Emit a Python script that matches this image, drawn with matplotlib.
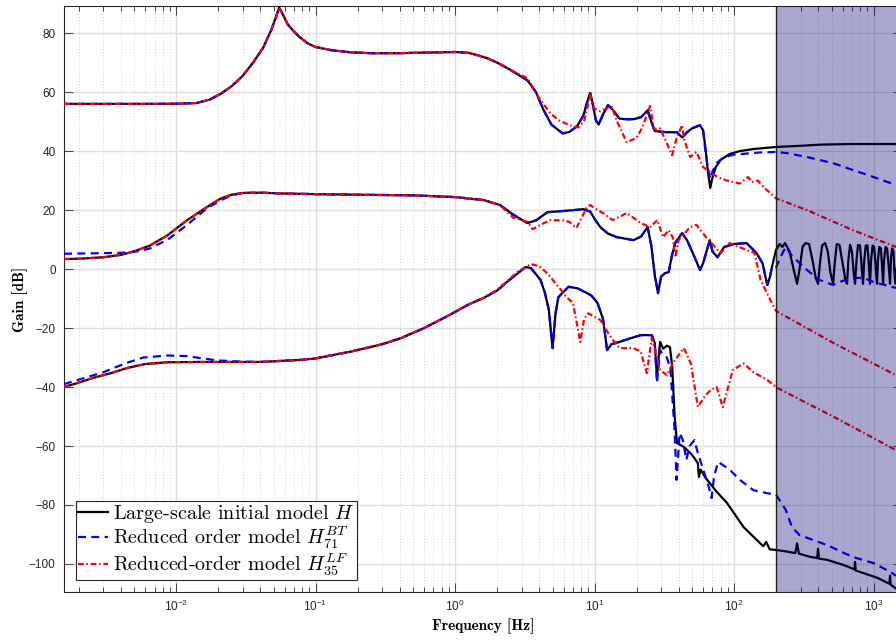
import numpy as np
from matplotlib import pyplot as plt
from matplotlib.font_manager import FontProperties

# gain curves as (frequency [Hz], gain [dB]) pairs

# --- first channel (top curves)
top_common = [(0.00157, 56), (0.003, 56), (0.006, 56), (0.01, 56.05), (0.014, 56.3),
              (0.0175, 57.5), (0.021, 59.5), (0.025, 62), (0.03, 65.5), (0.0356, 70),
              (0.042, 75), (0.048, 81), (0.052, 85.5), (0.0547, 88.7), (0.058, 86.5),
              (0.063, 83), (0.07, 80.5), (0.077, 78.6), (0.088, 76.5), (0.1, 75.3),
              (0.13, 74.2), (0.177, 73.5), (0.25, 73.2), (0.4, 73.2), (0.6, 73.4),
              (1.0, 73.6), (1.25, 73.3), (1.45, 72.5), (1.7, 71.5), (2.04, 69.8), (2.5, 67.5)]
top_mid = [(3.3, 64), (3.8, 60), (4.3, 54), (4.9, 49), (5.9, 46), (6.6, 46.5), (7.5, 48.5),
           (8.3, 52), (8.9, 57), (9.3, 59.7), (9.7, 56), (10.2, 50.5), (10.7, 49),
           (11.5, 52.5), (12.5, 55.6), (13.5, 54), (15.1, 51), (17, 50.8), (19, 50.8),
           (21.5, 51.5), (24, 53.8), (25.5, 50), (27, 46.8), (33, 46.4), (39, 46.4),
           (42.5, 44.6), (46, 46.4), (50, 47.7), (57, 48.8)]
top_H_tail = [(60, 47), (62, 42), (65, 33), (67.5, 27.5), (70, 31), (74, 34.6), (80, 37),
              (93, 39), (110, 40), (138, 40.7), (200, 41.4), (300, 41.8), (420, 42.2),
              (700, 42.4), (1450, 42.4)]
top_BT_tail = [(60, 47), (62, 41), (65, 34), (67.5, 30.5), (70, 33), (75, 36), (85, 38),
               (100, 38.8), (150, 39.5), (200, 39.7), (240, 39.3), (333, 38), (513, 35.9),
               (710, 33.6), (1000, 31.2), (1450, 28.5)]
top_LF_tail = [(3.3, 64.7), (4.0, 58), (4.8, 52.9), (5.5, 50.5), (6.6, 48.8), (7.6, 48),
               (8.4, 50), (9.0, 56), (9.3, 59), (9.9, 54.5), (11, 53.5), (12.3, 54.5),
               (13.3, 55), (14.5, 50), (17, 43), (20, 44.5), (22, 48), (25, 55.3),
               (26.5, 48), (28, 47), (29.5, 47.7), (32, 44), (36, 38.6), (38.5, 44),
               (42.4, 48.8), (44, 43.7), (48.4, 38), (53.7, 39.7), (60, 34.6), (76, 31.2),
               (89, 30), (110, 29), (126, 31.2), (134, 29.5), (148, 30), (165, 27.5),
               (200, 24), (333, 20), (710, 13.2), (1450, 7.5)]

# --- second channel (middle curves)
mid_low = [(0.00157, 3.4), (0.002, 3.5), (0.003, 4), (0.004, 4.8), (0.005, 6),
           (0.0065, 8), (0.0087, 11.5), (0.012, 16.6), (0.0166, 21), (0.021, 24),
           (0.025, 25.2), (0.03, 25.8)]
mid_BT_low = [(0.00157, 5.2), (0.003, 5.4), (0.004, 5.5), (0.0053, 6), (0.0065, 7),
              (0.0087, 10), (0.012, 15), (0.0166, 20.6), (0.021, 23.4), (0.025, 25),
              (0.03, 25.8)]
mid_plateau = [(0.04, 25.9), (0.06, 25.6), (0.1, 25.4), (0.2, 25.2), (0.5, 25),
               (1.0, 24.4), (1.6, 23.4), (2.1, 21.7)]
mid_mid = [(2.6, 18.5), (3.3, 15.6), (3.8, 16.5), (4.6, 19.3), (6, 19.7), (8.3, 20.3),
           (9.3, 19.5), (10, 17), (11, 14.2), (12.5, 12), (14.5, 10.8), (19, 9.8),
           (21.5, 11), (24, 14.2), (25.5, 8), (27, -2), (28.5, -8.2), (30, -2.5),
           (32, -1.4), (34, -1), (36, 5), (38, 9), (42.5, 12.2), (46, 9.8), (50, 6),
           (57, -0.3), (60, 2), (67, 9.8), (70, 6), (76, 4), (85, 7.5), (100, 8.5),
           (123, 8.8), (145, 5.4), (160, 2), (173, -5.4), (180, -3), (187, 0.7)]
mid_H_tail = [(200, 6.5), (212, 8.5), (222, 7.5), (232, 8.8), (250, 6), (270, -1),
              (283, -5), (295, 0), (310, 7.5), (325, 8.8), (345, 8.5), (365, 3),
              (385, -3), (400, -5), (413, 2), (428, 8), (450, 8.8), (470, 6), (490, -1),
              (513, -5), (527, 2), (545, 8.5), (570, 8.2), (600, 2), (630, -4), (646, -5),
              (660, 3), (679, 8.2), (700, 6), (720, -1), (737, -5), (755, 3), (774, 8.2),
              (800, 8), (825, 0), (841, -5), (858, 3), (880, 8), (905, 8), (930, 0),
              (944, -5), (960, 3), (985, 8), (1010, 7.5), (1040, 0), (1059, -5), (1075, 3),
              (1100, 7.5), (1130, 7), (1155, 0), (1171, -5), (1190, 3), (1220, 7.5),
              (1250, 7), (1290, 0), (1313, -5), (1335, 4), (1360, 7), (1390, 6),
              (1420, -3), (1440, -5), (1460, 0)]
mid_BT_tail = [(200, 0.5), (215, 4), (235, 7.5), (260, 4.5), (333, -0.3), (410, -3.7),
               (513, -5.4), (600, -4), (710, -3), (850, -3), (1000, -4.4), (1450, -6.4)]
mid_LF_tail = [(2.6, 17.5), (3.3, 16), (3.6, 13.5), (4.1, 15), (4.8, 16.6), (6.0, 16.5),
               (6.6, 16), (7.4, 13.9), (8.3, 18.5), (8.8, 21), (9.3, 21.7), (10, 20.6),
               (11.5, 19), (13.5, 16.6), (15.5, 18), (17, 19), (21.4, 15.6), (25, 14.2),
               (28.2, 16.6), (31, 10.8), (34, 13.2), (36.3, 10.8), (38, 4), (40, 9.8),
               (48.4, 14.2), (53.7, 15), (63, 10.8), (80, 5.4), (93, 8.8), (124, 6.4),
               (140, 5.5), (155, -3.7), (182, -10.5), (200, -14.2), (513, -25), (1450, -36)]

# --- third channel (bottom curves)
bot_low = [(0.00157, -40), (0.002, -38.5), (0.0025, -37), (0.0034, -35.3), (0.0045, -33.5),
           (0.006, -32.2), (0.0087, -31.6), (0.015, -31.5), (0.04, -31.5)]
bot_BT_low = [(0.00157, -39), (0.002, -37.5), (0.003, -35), (0.0043, -32), (0.0058, -30),
              (0.0087, -29.3), (0.012, -29.5), (0.015, -30.2), (0.02, -31), (0.03, -31.4),
              (0.04, -31.5)]
bot_rise = [(0.078, -30.8), (0.1, -30.3), (0.178, -28), (0.3, -25.5), (0.41, -23.4),
            (0.6, -20), (0.91, -15.6), (1.25, -12), (1.6, -9.8)]
bot_mid = [(2.0, -7.3), (2.35, -4.4), (2.8, -1.5), (3.2, 0.7), (3.5, 0.3), (4.1, -3.7),
           (4.4, -8), (4.7, -13.9), (5.0, -26.8), (5.25, -15), (5.5, -9.5), (6.5, -6),
           (7.5, -6.5), (8.7, -8), (9.5, -9), (10.5, -11.5), (11.5, -17), (12.3, -27.5),
           (13.2, -25.5), (15.1, -24.7), (18, -23.5), (21.4, -22.4), (25.7, -22.4), (27, -25)]
bot_H_tail = [(28, -36.6), (29.5, -24.7), (31, -27), (33, -26), (34.7, -26.5), (36, -33),
              (37.5, -50), (39, -59), (43.6, -60.3), (50, -63), (55, -65.8), (56, -70.5),
              (57.5, -68), (63, -71), (75, -75.5), (89, -79.3), (117, -87.5), (162, -94),
              (170, -92.5), (180, -95), (204, -95.3), (240, -95.8), (275, -96.3),
              (283, -93), (292, -96.5), (353, -97.6), (395, -98), (400, -94.8),
              (406, -98.2), (465, -98.6), (605, -100.3), (730, -101.8), (737, -99.3),
              (745, -102.2), (800, -102.7), (1066, -104.7), (1300, -106.7), (1313, -104),
              (1326, -107), (1450, -108.3)]
bot_BT_tail = [(28, -38.6), (29.5, -27.5), (31, -29), (33, -30), (35, -34), (37.5, -55),
               (38.7, -71.5), (40.7, -55.6), (43, -58), (45.5, -64.7), (48, -60),
               (52, -58), (55, -62.4), (62, -70), (66, -74), (69, -77.6), (72, -70),
               (77, -65.4), (93, -68), (110, -71.5), (138, -75), (173, -76), (200, -76.5),
               (235, -81.7), (260, -87.5), (295, -90.2), (465, -93.6), (708, -97.6),
               (1000, -99.7), (1320, -102.7), (1450, -104)]
bot_LF_tail = [(2.0, -7), (2.35, -4.2), (2.8, -1), (3.5, 1.7), (4.0, 1), (4.6, -1.5),
               (5.5, -6), (6.3, -9.5), (7.0, -11.5), (7.9, -24.7), (8.4, -17), (9.0, -15),
               (11, -17.3), (13, -23), (15.1, -26.8), (19, -26.8), (21.4, -28),
               (23.7, -35.3), (25.7, -23.4), (29.5, -34.2), (33, -36), (36.3, -32),
               (43.6, -26.8), (49, -32), (55, -46.8), (62, -43), (68, -41), (75, -40),
               (83, -46.8), (98, -34.2), (117, -32), (138, -35), (173, -37.6),
               (204, -40.3), (513, -50), (1450, -61.4)]

# model responses assembled from the pieces above
H = [top_common + top_mid + top_H_tail,
     mid_low + mid_plateau + mid_mid + mid_H_tail,
     bot_low + bot_rise + bot_mid + bot_H_tail]
H_BT = [top_common + top_mid + top_BT_tail,
        mid_BT_low + mid_plateau + mid_mid + mid_BT_tail,
        bot_BT_low + bot_rise + bot_mid + bot_BT_tail]
H_LF = [top_common + top_LF_tail,
        mid_low + mid_plateau + mid_LF_tail,
        bot_low + bot_rise + bot_LF_tail]

labels = [r"Large-scale initial model $H$",
          r"Reduced order model $H_{71}^{BT}$",
          r"Reduced-order model $H_{35}^{LF}$"]

f_band = 200.0  # start of the highlighted band
xlim = (1.57e-3, 1.6e3)
ylim = (-109.5, 89.2)
xticks = [1e-2, 1e-1, 1e0, 1e1, 1e2, 1e3]
yticks = [-100, -80, -60, -40, -20, 0, 20, 40, 60, 80]

plt.rcParams["mathtext.fontset"] = "custom"
plt.rcParams["mathtext.rm"] = "Liberation Sans"
plt.rcParams["mathtext.it"] = "Liberation Sans:italic"
plt.rcParams["font.family"] = "Liberation Sans"

fig = plt.figure(figsize=(8.96, 6.4), dpi=100)
ax = fig.add_axes([64 / 896, 48 / 640, 838 / 896, 586 / 640])

styles = [
    dict(color="black", lw=1.6, ls="-", zorder=3),
    dict(color="#0000ff", lw=1.6, ls=(0, (3.6, 2.4)), zorder=4),
    dict(color="#ff0000", lw=1.6, ls=(0, (2.6, 1.2, 0.7, 1.2)), zorder=5),
]
handles = []
for model, st, lab in zip([H, H_BT, H_LF], styles, labels):
    for k, curve in enumerate(model):
        arr = np.array(curve)
        (ln,) = ax.semilogx(arr[:, 0], arr[:, 1], label=lab if k == 0 else None, **st)
        if k == 0:
            handles.append(ln)

# high-frequency band, laid over the curves
ax.axvspan(f_band, 1e4, facecolor=(0.05, 0.02, 0.45), alpha=0.35,
           edgecolor="none", zorder=6)
ax.axvline(f_band, color="#202020", lw=1.0, zorder=7)

ax.set_xlim(xlim)
ax.set_ylim(ylim)
ax.set_xticks(xticks)
ax.set_yticks(yticks)

ax.set_axisbelow(True)
ax.grid(which="major", color="#dedede", lw=1.0, ls="-")
ax.grid(which="minor", axis="x", color="#c4c4c4", lw=0.6, ls=(0, (1, 2.5)))

ax.tick_params(which="both", direction="in", top=True, right=True,
               color="#262626", width=0.6, labelcolor="#262626", labelsize=8.5)
ax.tick_params(which="major", length=6.5)
ax.tick_params(which="minor", length=3.5)
ax.tick_params(axis="y", pad=6)
ax.tick_params(axis="x", pad=5)
for sp in ax.spines.values():
    sp.set_color("#262626")
    sp.set_linewidth(0.8)

label_font = FontProperties(family="cmb10", size=11)
ax.set_xlabel("Frequency [Hz]", fontproperties=label_font, labelpad=3)
ax.set_ylabel("Gain [dB]", fontproperties=label_font, labelpad=0.5)

leg = ax.legend(handles=handles, loc="lower left",
                prop=FontProperties(family="cmr10", size=14.5, math_fontfamily="cm"),
                fancybox=False, framealpha=1, edgecolor="#262626",
                handlelength=1.5, handletextpad=0.25, labelspacing=0.0,
                borderpad=0.1, borderaxespad=0.6)
leg.get_frame().set_linewidth(0.8)
leg.set_zorder(10)

fig.savefig("out.png", dpi=100)
